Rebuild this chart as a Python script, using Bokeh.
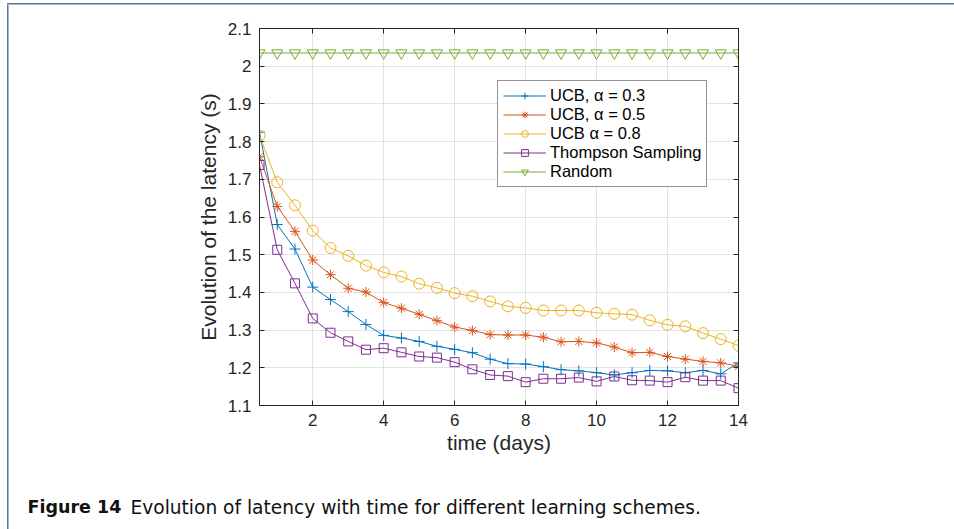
from bokeh.plotting import figure
from bokeh.models import Range1d, LinearAxis, FixedTicker, Legend, LegendItem, ColumnDataSource, Label
from bokeh.embed import file_html
from bokeh.resources import INLINE

days = [0.5, 1, 1.5, 2, 2.5, 3, 3.5, 4, 4.5, 5, 5.5, 6, 6.5, 7, 7.5, 8, 8.5, 9, 9.5, 10,
        10.5, 11, 11.5, 12, 12.5, 13, 13.5, 14]
ucb_03 = [1.825, 1.580, 1.515, 1.414, 1.381, 1.349, 1.315, 1.286, 1.279, 1.270, 1.257, 1.249,
          1.240, 1.223, 1.211, 1.210, 1.203, 1.195, 1.192, 1.187, 1.181, 1.187, 1.193, 1.192,
          1.187, 1.193, 1.184, 1.213]
ucb_05 = [1.760, 1.628, 1.562, 1.486, 1.447, 1.411, 1.401, 1.373, 1.358, 1.342, 1.325, 1.308,
          1.299, 1.288, 1.287, 1.287, 1.281, 1.269, 1.270, 1.266, 1.255, 1.240, 1.241, 1.230,
          1.223, 1.217, 1.213, 1.204]
ucb_08 = [1.816, 1.692, 1.631, 1.564, 1.518, 1.497, 1.471, 1.453, 1.442, 1.423, 1.412, 1.398,
          1.390, 1.376, 1.363, 1.359, 1.352, 1.352, 1.352, 1.346, 1.343, 1.341, 1.326, 1.314,
          1.310, 1.292, 1.276, 1.259]
thompson = [1.738, 1.513, 1.424, 1.331, 1.293, 1.270, 1.248, 1.252, 1.241, 1.230, 1.227, 1.215,
            1.196, 1.181, 1.178, 1.162, 1.171, 1.171, 1.174, 1.164, 1.177, 1.167, 1.166, 1.162,
            1.175, 1.166, 1.166, 1.146]
random_ = [2.035] * len(days)

labels = ["UCB, \u03b1 = 0.3", "UCB, \u03b1 = 0.5", "UCB \u03b1 = 0.8", "Thompson Sampling", "Random"]
colors = ["#0072BD", "#D95319", "#EDB120", "#7E2F8E", "#77AC30"]
markers = ["cross", "asterisk", "circle", "square", "inverted_triangle"]
msizes = [11, 10, 11, 9, 11]
series = [ucb_03, ucb_05, ucb_08, thompson, random_]

x_ticks = [2, 4, 6, 8, 10, 12, 14]
y_ticks = [1.1, 1.2, 1.3, 1.4, 1.5, 1.6, 1.7, 1.8, 1.9, 2.0, 2.1]

caption_bold = "Figure 14"
caption_text = "Evolution of latency with time for different learning schemes."

frame_dark = "#5f7893"
frame_light = "#a3b5c9"

p = figure(width=954, height=529, output_backend="svg", toolbar_location=None,
           x_range=Range1d(0.5, 14), y_range=Range1d(1.1, 2.1),
           min_border_left=259, min_border_right=216, min_border_top=28, min_border_bottom=124,
           x_axis_label="time (days)", y_axis_label="Evolution of the latency (s)")
p.outline_line_color = "#262626"
p.outline_line_width = 1
p.background_fill_color = "white"
p.border_fill_color = None

AX = "#262626"
TICK_FONT = "Liberation Sans"

def style_axis(ax, show_labels=True):
    ax.axis_line_color = AX
    ax.major_tick_line_color = AX
    ax.minor_tick_line_color = None
    ax.major_tick_in = 5
    ax.major_tick_out = 0
    ax.major_label_text_font = TICK_FONT
    ax.major_label_text_font_size = "17px"
    ax.major_label_text_color = AX
    ax.axis_label_text_font = TICK_FONT
    ax.axis_label_text_font_size = "21px"
    ax.axis_label_text_font_style = "normal"
    ax.axis_label_text_color = AX
    if not show_labels:
        ax.major_label_text_font_size = "0px"
        ax.major_label_text_alpha = 0

p.xaxis.ticker = FixedTicker(ticks=x_ticks)
p.yaxis.ticker = FixedTicker(ticks=y_ticks)
p.yaxis.formatter.use_scientific = False
for ax in p.xaxis + p.yaxis:
    style_axis(ax)
p.xaxis.major_label_standoff = 8
p.yaxis.major_label_standoff = 8
p.xaxis.axis_label_standoff = 2
p.yaxis.axis_label_standoff = 5

top = LinearAxis(ticker=FixedTicker(ticks=x_ticks))
right = LinearAxis(ticker=FixedTicker(ticks=y_ticks))
style_axis(top, False)
style_axis(right, False)
p.add_layout(top, "above")
p.add_layout(right, "right")

p.xgrid.ticker = FixedTicker(ticks=x_ticks)
p.ygrid.ticker = FixedTicker(ticks=y_ticks)
p.grid.grid_line_color = "#e3e3e3"
p.grid.grid_line_width = 1

items = []
for lab, col, mk, ms, ys in zip(labels, colors, markers, msizes, series):
    src = ColumnDataSource(dict(x=days, y=ys))
    r1 = p.line("x", "y", source=src, line_color=col, line_width=1)
    r2 = p.scatter("x", "y", source=src, marker=mk, size=ms, line_color=col,
                   fill_color=None, line_width=1)
    items.append(LegendItem(label=lab, renderers=[r1, r2]))

legend = Legend(items=items, location=(238, 218))
legend.label_text_font = TICK_FONT
legend.label_text_font_size = "16.5px"
legend.label_text_color = "#000000"
legend.glyph_width = 43
legend.glyph_height = 17
legend.label_height = 17
legend.label_standoff = 4
legend.spacing = 0
legend.padding = 5
legend.margin = 0
legend.border_line_color = AX
legend.border_line_width = 1
legend.background_fill_alpha = 1
p.add_layout(legend, "center")

# caption: labels in the bottom side panel (not clipped to the frame)
cap_bold = Label(x=-232, y=-30, x_units="screen", y_units="screen", text=caption_bold,
                 text_font="DejaVu Sans", text_font_size="17.5px", text_font_style="bold",
                 text_color="#111111", text_baseline="alphabetic")
cap_rest = Label(x=-129, y=-10, x_units="screen", y_units="screen", text=caption_text,
                 text_font="DejaVu Sans", text_font_size="18.6px",
                 text_color="#111111", text_baseline="alphabetic")
p.add_layout(cap_bold, "below")
p.add_layout(cap_rest, "below")

p.styles = {
    "background": (
        f"linear-gradient({frame_dark},{frame_dark}) 7px 3px / 100% 1px no-repeat, "
        f"linear-gradient({frame_light},{frame_light}) 7px 4px / 100% 1px no-repeat, "
        f"linear-gradient({frame_dark},{frame_dark}) 7px 3px / 1px 100% no-repeat, "
        f"linear-gradient({frame_light},{frame_light}) 8px 4px / 1px 100% no-repeat, white"
    )
}

open("out.html", "w").write(file_html(p, INLINE))
